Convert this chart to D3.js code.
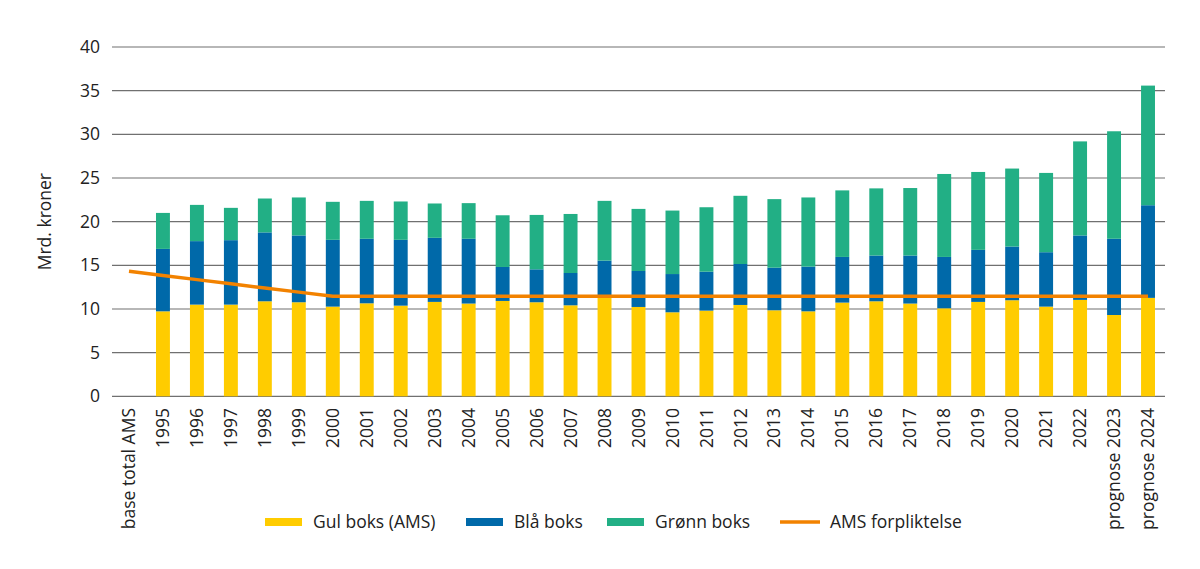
<!DOCTYPE html>
<html>
<head>
<meta charset="utf-8">
<script src="https://cdn.jsdelivr.net/npm/d3@7"></script>
<style>
  body { margin: 0; background: #fff; }
  svg text { font-family: "Open Sans", "Noto Sans", sans-serif; fill: #222; }
</style>
</head>
<body>
<div id="chart-area"></div>
<script>
// categories along the x axis
var categories = ["base total AMS", "1995", "1996", "1997", "1998", "1999", "2000", "2001", "2002",
  "2003", "2004", "2005", "2006", "2007", "2008", "2009", "2010", "2011", "2012", "2013", "2014",
  "2015", "2016", "2017", "2018", "2019", "2020", "2021", "2022", "prognose 2023", "prognose 2024"];

// Mrd. kroner, null = no bar
var gulBoks = [null, 9.73, 10.5, 10.5, 10.88, 10.77, 10.27, 10.65, 10.38, 10.81, 10.62, 10.92, 10.77,
  10.42, 11.35, 10.23, 9.62, 9.81, 10.46, 9.85, 9.73, 10.73, 10.88, 10.62, 10.08, 10.81, 11.0,
  10.27, 11.04, 9.31, 11.27];
var blaBoks = [null, 7.15, 7.27, 7.38, 7.89, 7.65, 7.65, 7.39, 7.54, 7.34, 7.42, 3.89, 3.77,
  3.7, 4.19, 4.12, 4.38, 4.46, 4.69, 4.88, 5.12, 5.23, 5.24, 5.5, 5.88, 5.96, 6.15,
  6.23, 7.38, 8.73, 10.61];
var gronnBoks = [null, 4.12, 4.15, 3.7, 3.88, 4.35, 4.35, 4.34, 4.39, 3.93, 4.08, 5.92, 6.23,
  6.76, 6.84, 7.11, 7.27, 7.38, 7.81, 7.85, 7.92, 7.62, 7.69, 7.73, 9.5, 8.92, 8.93,
  9.08, 10.77, 12.31, 13.7];
var amsForpliktelse = [14.31, 13.83, 13.36, 12.88, 12.40, 11.93, 11.45, 11.45, 11.45, 11.45, 11.45,
  11.45, 11.45, 11.45, 11.45, 11.45, 11.45, 11.45, 11.45, 11.45, 11.45, 11.45, 11.45, 11.45, 11.45,
  11.45, 11.45, 11.45, 11.45, 11.45, 11.45];

var yTicks = [0, 5, 10, 15, 20, 25, 30, 35, 40];

var seriesNames = ["Gul boks (AMS)", "Blå boks", "Grønn boks"];
var seriesColors = ["#FFCC00", "#0069A9", "#22AF85"];
var lineColor = "#F28200";

var W = 1200, H = 569;
var margin = {left: 112, right: 35, top: 47, bottom: 175};
var fontSize = "17.5px";

var svg = d3.select("#chart-area").append("svg")
  .attr("width", W)
  .attr("height", H);

var x = d3.scaleBand().domain(categories)
  .range([margin.left, W - margin.right])
  .paddingInner(0.59).paddingOuter(0.295);

var y = d3.scaleLinear().domain([0, 40]).range([H - margin.bottom + 2.3, margin.top]);

// gridlines
svg.append("g").selectAll("line").data(yTicks).enter().append("line")
  .attr("x1", margin.left).attr("x2", W - margin.right)
  .attr("y1", d => y(d)).attr("y2", d => y(d))
  .attr("stroke", "#707070").attr("stroke-width", 1.2);

// y tick labels
svg.append("g").selectAll("text").data(yTicks).enter().append("text")
  .attr("x", 100).attr("y", d => y(d))
  .attr("dy", "0.35em")
  .attr("text-anchor", "end")
  .attr("font-size", fontSize)
  .text(d => d);

svg.append("text")
  .attr("transform", "translate(51," + y(20) + ") rotate(-90)")
  .attr("text-anchor", "middle")
  .attr("font-size", fontSize)
  .text("Mrd. kroner");

// stacked bars
var rows = categories.map((c, i) => ({cat: c, gul: gulBoks[i], bla: blaBoks[i], gronn: gronnBoks[i]}))
  .filter(d => d.gul != null);
var stack = d3.stack().keys(["gul", "bla", "gronn"])(rows);

svg.append("g").selectAll("g").data(stack).enter().append("g")
  .attr("fill", (d, i) => seriesColors[i])
  .selectAll("rect").data(d => d).enter().append("rect")
  .attr("x", d => x(d.data.cat))
  .attr("width", x.bandwidth())
  .attr("y", d => y(d[1]))
  .attr("height", d => y(d[0]) - y(d[1]));

// AMS line
var line = d3.line()
  .x((d, i) => x(categories[i]) + x.bandwidth() / 2)
  .y(d => y(d));

svg.append("path")
  .datum(amsForpliktelse)
  .attr("d", line)
  .attr("fill", "none")
  .attr("stroke", lineColor)
  .attr("stroke-width", 3.5);

// x labels
svg.append("g").selectAll("text").data(categories).enter().append("text")
  .attr("transform", d => "translate(" + (x(d) + x.bandwidth() / 2) + ",408) rotate(-90)")
  .attr("dy", "0.35em")
  .attr("text-anchor", "end")
  .attr("font-size", fontSize)
  .text(d => d);

// legend
var legendItems = [
  {name: seriesNames[0], color: seriesColors[0], type: "rect", x: 265},
  {name: seriesNames[1], color: seriesColors[1], type: "rect", x: 466},
  {name: seriesNames[2], color: seriesColors[2], type: "rect", x: 607},
  {name: "AMS forpliktelse", color: lineColor, type: "line", x: 780}
];
var legend = svg.append("g").attr("transform", "translate(0,522)");
legendItems.forEach(item => {
  if (item.type == "rect") {
    legend.append("rect")
      .attr("x", item.x).attr("y", -4)
      .attr("width", 37).attr("height", 8)
      .attr("fill", item.color);
  } else {
    legend.append("line")
      .attr("x1", item.x).attr("x2", item.x + 40)
      .attr("y1", 0).attr("y2", 0)
      .attr("stroke", item.color)
      .attr("stroke-width", 3.5);
  }
  legend.append("text")
    .attr("x", item.x + (item.type == "rect" ? 48 : 50))
    .attr("dy", "0.35em")
    .attr("font-size", fontSize)
    .text(item.name);
});
</script>
</body>
</html>
